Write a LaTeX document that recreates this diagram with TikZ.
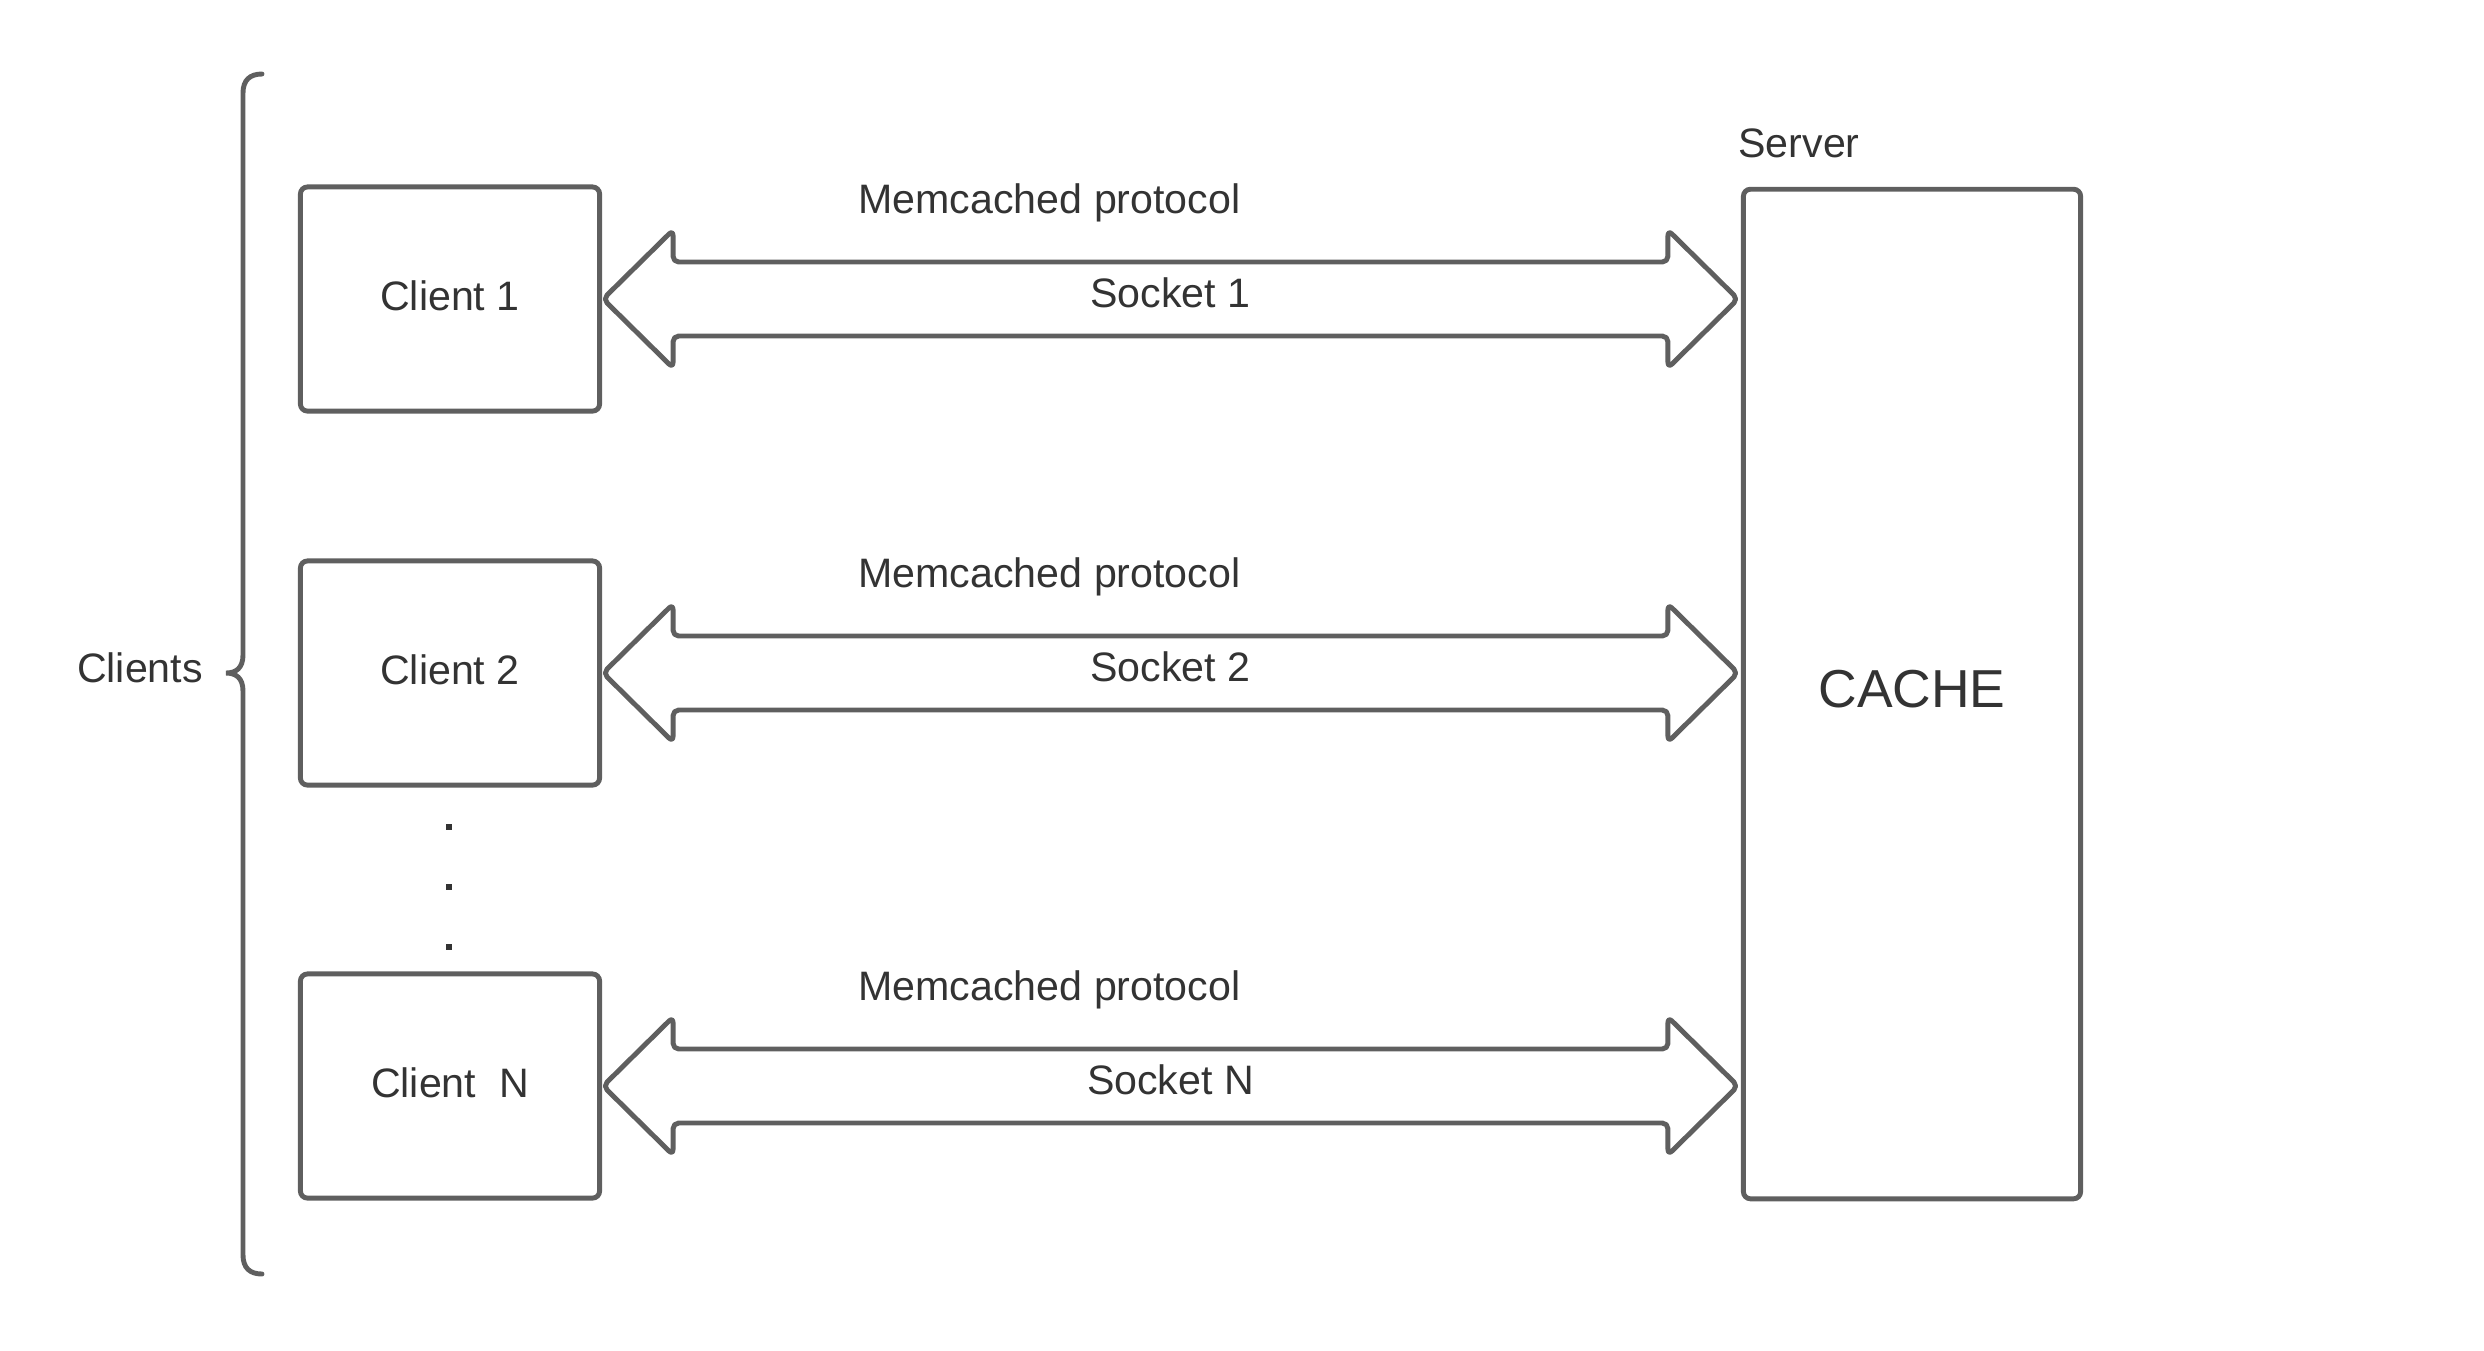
\documentclass[tikz,border=0pt]{standalone}
\usepackage{fontspec}
\setmainfont{Liberation Sans}
\usetikzlibrary{positioning,calc}
\definecolor{linegray}{HTML}{5F5F5F}
\definecolor{textgray}{HTML}{333333}

\begin{document}
\begin{tikzpicture}[x=0.01cm,y=-0.01cm,
        box/.style={draw=linegray, line width=1.4pt, rounded corners=2pt, text=textgray, text depth=0.06cm,
                    minimum width=2.99cm, minimum height=2.24cm, font=\fontsize{11.7}{14}\selectfont},
        pipe/.style={draw=linegray, line width=1.4pt, rounded corners=1.6pt, line join=round},
        lbl/.style={text=textgray, inner sep=0pt, font=\fontsize{11.7}{14}\selectfont}]
    \useasboundingbox (0,0) rectangle (2484,1350);

    % clients and server
    \node[box] (c1) at (450,299) {Client 1};
    \node[box] (c2) at (450,673) {Client 2};
    \node[box] (cn) at (450,1086) {Client\ \ N};
    \node[box, minimum width=3.37cm, minimum height=10.09cm, text depth=0.1cm,
          font=\fontsize{15.2}{18}\selectfont] (srv) at (1912,694) {CACHE};
    \node[lbl] (srvlbl) at (1799,143) {Server};

    % dots between client 2 and client N
    \foreach \y in {827,887,947}
        \fill[textgray] (446,\y-3) rectangle (452,\y+3);

    % brace
    \draw[draw=linegray, line width=1.4pt, line cap=round]
        (262,74) .. controls (250,74) and (243,80) .. (243,93) -- (243,655)
        .. controls (243,668) and (236,673) .. (226,673)
        .. controls (236,673) and (243,678) .. (243,691) -- (243,1255)
        .. controls (243,1268) and (250,1274) .. (262,1274);
    \node[lbl] (cl) at (140,668) {Clients};

    % sockets
    \foreach \c/\n in {c1/1, c2/2, cn/N} {
        \coordinate (a\n) at ($(\c.east)+(1,0)$);
        \coordinate (b\n) at ($(\c.east -| srv.west)+(-3,0)$);
        \draw[pipe] (a\n) -- ++(70,-69) -- ++(0,32) -- ($(b\n)+(-70,-37)$) -- ++(0,-32) -- (b\n)
            -- ++(-70,69) -- ++(0,-32) -- ($(a\n)+(70,37)$) -- ++(0,32) -- cycle;
        \node[lbl] (s\n) at ($(a\n)!0.5!(b\n)+(0,-6)$) {Socket \n};
        \node[lbl] (m\n) at ($(a\n)!0.5!(b\n)+(-121,-96)$) {Memcached protocol};
    }
\end{tikzpicture}
\end{document}
